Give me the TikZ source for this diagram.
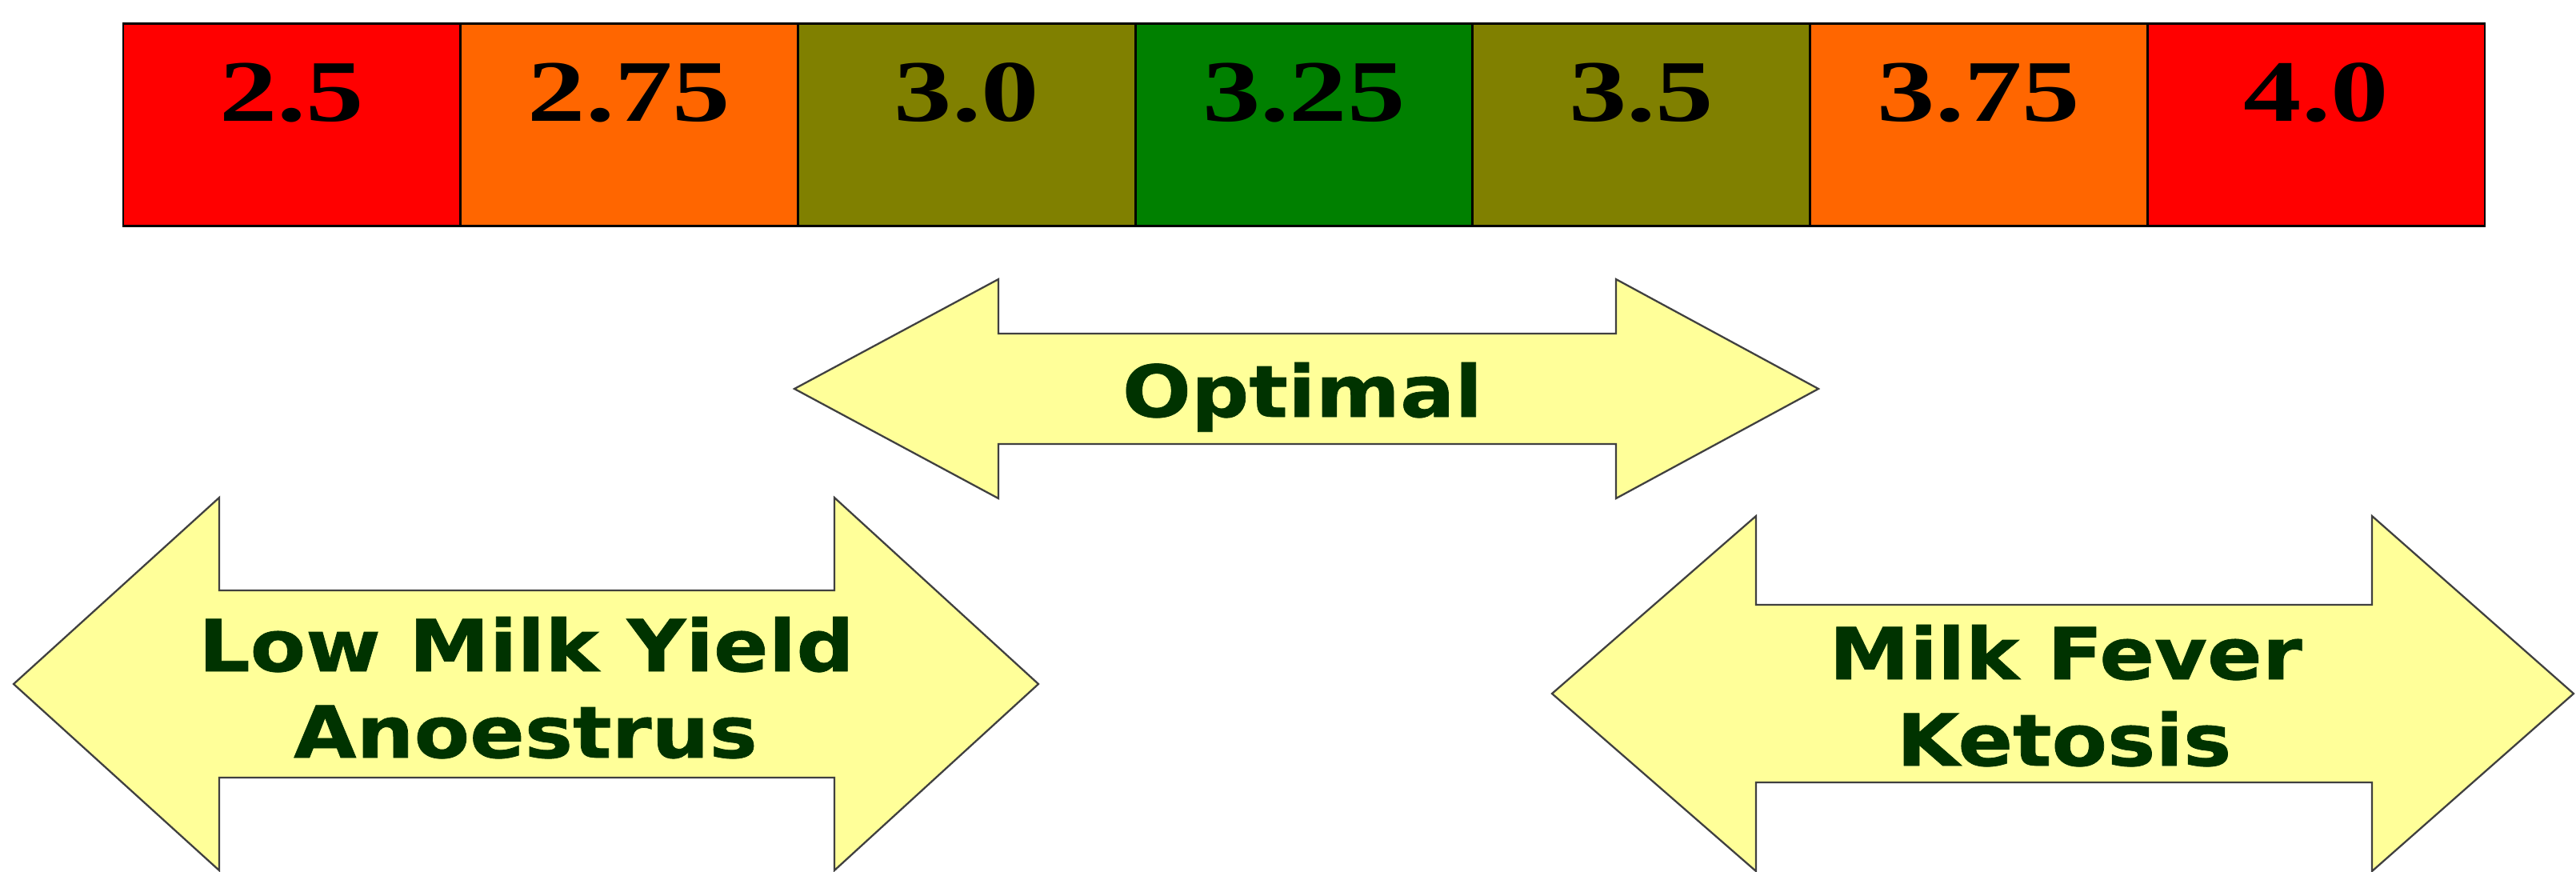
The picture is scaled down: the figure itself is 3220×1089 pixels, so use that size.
\documentclass[tikz,border=0pt]{standalone}
\usepackage{fontspec}
\newfontfamily\numfont[FakeStretch=1.32]{Liberation Serif}
\newfontfamily\arrfont[FakeStretch=1.13,FakeBold=0.8]{DejaVu Sans}
\definecolor{cred}{HTML}{FF0000}
\definecolor{corange}{HTML}{FF6600}
\definecolor{colive}{HTML}{808000}
\definecolor{cgreen}{HTML}{008000}
\definecolor{afill}{HTML}{FFFF99}
\definecolor{atext}{HTML}{003300}
\definecolor{aline}{HTML}{404040}
\tikzset{
  cellbox/.style={draw=black, line width=0.85pt},
  numtext/.style={anchor=base, inner sep=0pt, font=\numfont\bfseries\fontsize{31.2}{36}\selectfont, text=black},
  arrowshape/.style={draw=aline, fill=afill, line width=0.65pt, line join=miter},
  arrtext/.style={anchor=base, inner sep=0pt, font=\arrfont\bfseries\fontsize{25.5}{30}\selectfont, text=atext}
}
\newcommand{\dblarrow}[7]{% lt, sl, sr, rt, cy, headhalf, shafthalf
  \draw[arrowshape] (#1,#5) -- (#2,#5-#6) -- (#2,#5-#7) -- (#3,#5-#7) -- (#3,#5-#6) -- (#4,#5)
    -- (#3,#5+#6) -- (#3,#5+#7) -- (#2,#5+#7) -- (#2,#5+#6) -- cycle;}
\begin{document}
\begin{tikzpicture}[x=0.1mm,y=-0.1mm]
\useasboundingbox (0,0) rectangle (3220,1089);
% scale bar
\foreach \i/\col/\lab in {0/cred/2.5, 1/corange/2.75, 2/colive/3.0, 3/cgreen/3.25, 4/colive/3.5, 5/corange/3.75, 6/cred/4.0}{
  \pgfmathsetmacro{\xa}{154+421.71*\i}
  \pgfmathsetmacro{\xb}{154+421.71*(\i+1)}
  \pgfmathsetmacro{\xc}{154+421.71*(\i+0.5)}
  \draw[cellbox, fill=\col] (\xa,29) rectangle (\xb,282);
  \node[numtext] (n\i) at (\xc,151) {\lab};
}
% arrows
\dblarrow{993}{1248}{2020}{2273}{486}{137}{69}
\dblarrow{17}{274}{1043}{1298}{855}{233}{117}
\dblarrow{1940}{2195}{2965}{3217}{867}{222}{111}
% labels
\node[arrtext] (opt) at (1628,521) {Optimal};
\node[arrtext] (low1) at (658,839) {Low Milk Yield};
\node[arrtext] (low2) at (657,947) {Anoestrus};
\node[arrtext] (hi1) at (2582,849) {Milk Fever};
\node[arrtext] (hi2) at (2580,957) {Ketosis};
\end{tikzpicture}
\end{document}
